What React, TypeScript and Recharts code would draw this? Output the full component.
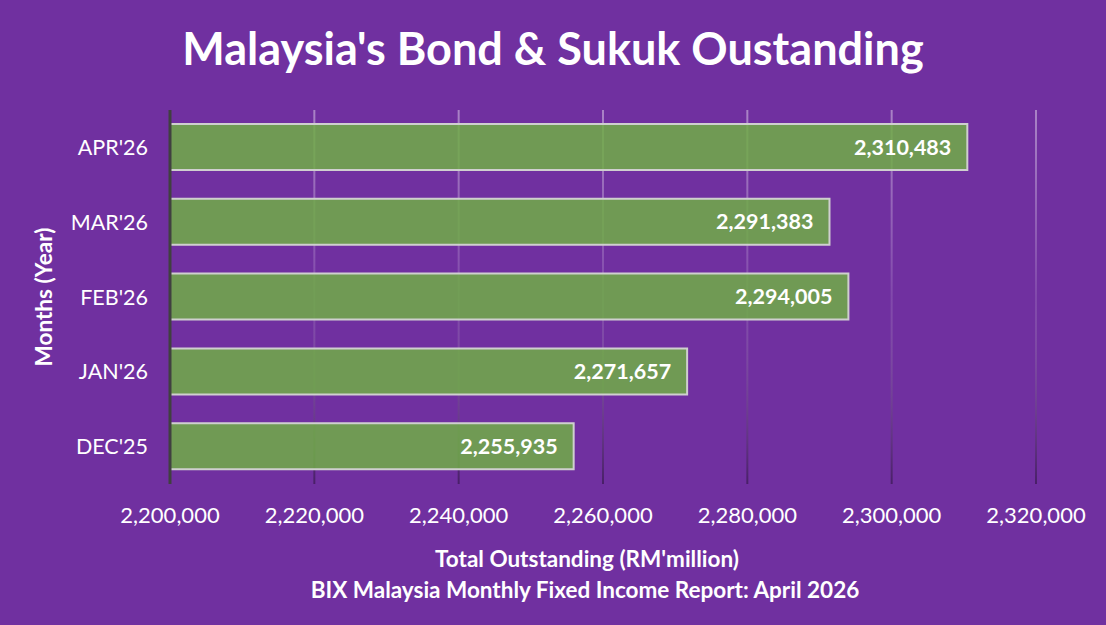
import React from "react";
import { BarChart, Bar, XAxis, YAxis, CartesianGrid, LabelList } from "recharts";

const months = ["APR'26", "MAR'26", "FEB'26", "JAN'26", "DEC'25"];
const outstanding = [2310483, 2291383, 2294005, 2271657, 2255935];
const xTicks = [2200000, 2220000, 2240000, 2260000, 2280000, 2300000, 2320000];

const data = months.map((m, i) => ({ month: m, value: outstanding[i] }));

const FONT = "Lato, 'Open Sans', sans-serif";
const fmt = (v: number) => v.toLocaleString("en-US");

export default function App() {
  return (
    <div style={{ position: "fixed", left: 0, top: 0, width: 1106, height: 625, background: "#7030A0", fontFamily: FONT }}>
      <div style={{ position: "absolute", left: 0, top: 20, width: 1106, textAlign: "center", color: "#fff", fontWeight: 700, fontSize: 45, lineHeight: "56px" }}>
        Malaysia's Bond &amp; Sukuk Oustanding
      </div>
      <BarChart
        width={1106}
        height={625}
        data={data}
        layout="vertical"
        margin={{ top: 110, right: 70, bottom: 111, left: 0 }}
        barSize={46}
      >
        <defs>
          <linearGradient id="gridGrad2" gradientUnits="userSpaceOnUse" x1="0" y1="110" x2="0" y2="484">
            <stop offset="0%" stopColor="#ffffff" stopOpacity={0.4} />
            <stop offset="50%" stopColor="#ffffff" stopOpacity={0.12} />
            <stop offset="100%" stopColor="#000000" stopOpacity={0.35} />
          </linearGradient>
        </defs>
        <CartesianGrid horizontal={false} stroke="url(#gridGrad2)" strokeWidth={2} />
        <XAxis
          type="number"
          domain={[2200000, 2320000]}
          ticks={xTicks}
          tickFormatter={fmt}
          axisLine={false}
          tickLine={false}
          tickSize={0}
          tickMargin={23}
          tick={{ fill: "#ffffff", fontSize: 22, fontFamily: FONT }}
          interval={0}
        />
        <YAxis
          type="category"
          dataKey="month"
          width={170}
          axisLine={{ stroke: "#404040", strokeWidth: 3 }}
          tickLine={false}
          tickSize={0}
          tickMargin={22}
          tick={{ fill: "#ffffff", fontSize: 21.5, fontFamily: FONT }}
        />
        <Bar dataKey="value" fill="#70AD47" fillOpacity={0.85} stroke="#cfcfcf" strokeWidth={2} isAnimationActive={false}>
          <LabelList
            dataKey="value"
            position="insideRight"
            offset={16}
            formatter={(v: any) => fmt(Number(v))}
            style={{ fill: "#ffffff", fontSize: 21.5, fontWeight: 700, fontFamily: FONT }}
          />
        </Bar>
      </BarChart>
      <div style={{ position: "absolute", left: 44, top: 297, width: 0, height: 0 }}>
        <div style={{ position: "absolute", left: 0, top: 0, transform: "translate(-50%, -50%) rotate(-90deg)", whiteSpace: "nowrap", color: "#fff", fontWeight: 700, fontSize: 22.5, lineHeight: "28px" }}>
          Months (Year)
        </div>
      </div>
      <div style={{ position: "absolute", left: 337, width: 500, top: 544, textAlign: "center", color: "#fff", fontWeight: 700, fontSize: 22.5, lineHeight: "30px" }}>
        Total Outstanding (RM'million)
      </div>
      <div style={{ position: "absolute", left: 235, width: 700, top: 575, textAlign: "center", color: "#fff", fontWeight: 700, fontSize: 22.5, lineHeight: "30px" }}>
        BIX Malaysia Monthly Fixed Income Report: April 2026
      </div>
    </div>
  );
}
